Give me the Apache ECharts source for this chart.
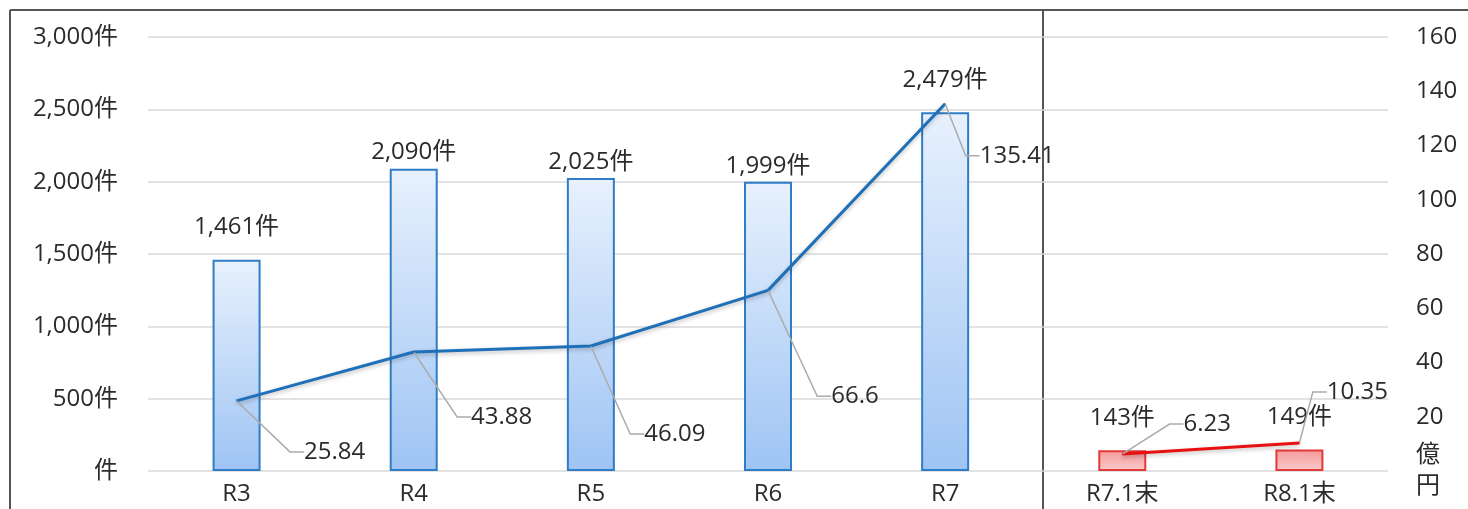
<!DOCTYPE html>
<html><head><meta charset="utf-8">
<script src="https://cdn.jsdelivr.net/npm/echarts@6/dist/echarts.min.js"></script>
<style>html,body{margin:0;padding:0;background:#fff}#c{width:1468px;height:509px}</style>
</head><body><div id="c"></div>
<script>
const categories = ['R3','R4','R5','R6','R7','R7.1末','R8.1末'];
const caseCounts = [1461, 2090, 2025, 1999, 2479, 143, 149];
const amountMain = [25.84, 43.88, 46.09, 66.6, 135.41];
const amountSub = [6.23, 10.35];
const leftTicks = {min: 0, max: 3000, interval: 500};
const rightTicks = {min: 0, max: 160, interval: 20};

const FONT = '"Open Sans", "Noto Sans CJK JP", sans-serif';
const FS = 24;
const TXT = '#2b2b2b';
const mainCount = amountMain.length;

const blueBar = {
  color: {type:'linear', x:0, y:0, x2:0, y2:1, colorStops:[{offset:0,color:'#e8f1fd'},{offset:1,color:'#9ec4f4'}]},
  borderColor:'#2f7dc6', borderWidth:2
};
const redBar = {
  color: {type:'linear', x:0, y:0, x2:0, y2:1, colorStops:[{offset:0,color:'#f49a9a'},{offset:1,color:'#fbcaca'}]},
  borderColor:'#e23a3a', borderWidth:2
};

const barData = caseCounts.map((v,i)=>({value:v, itemStyle: i < mainCount ? blueBar : redBar}));
const blueLine = categories.map((c,i)=> i < mainCount ? amountMain[i] : '-');
const redLine = categories.map((c,i)=> i >= mainCount ? amountSub[i-mainCount] : '-');

// label offsets (styling only)
const barLabelLift = [-16, 0, 0, 0, -16, -16, -16];
const blueLabelOffset = [[98,51],[88,65],[84,88],[87,106],[72,52]];
const redLabelOffset = [[85,-30],[58,-51]];

const chart = echarts.init(document.getElementById('c'));
chart.setOption({
  animation:false,
  textStyle:{fontFamily:FONT},
  grid:{left:148, right:80, top:37, bottom:38},
  xAxis:{
    type:'category', data:categories,
    axisLine:{show:false}, axisTick:{show:false},
    axisLabel:{color:TXT, fontSize:FS, fontFamily:FONT, margin:11}
  },
  yAxis:[{
    type:'value', min:leftTicks.min, max:leftTicks.max, interval:leftTicks.interval,
    axisLine:{show:false}, axisTick:{show:false},
    splitLine:{lineStyle:{color:'#d9d9d9', width:1.5}},
    axisLabel:{color:TXT, fontSize:FS, fontFamily:FONT, margin:30,
      formatter:v => v === 0 ? '件' : v.toLocaleString('en-US') + '件'}
  },{
    type:'value', min:rightTicks.min, max:rightTicks.max, interval:rightTicks.interval,
    axisLine:{show:false}, axisTick:{show:false}, splitLine:{show:false},
    axisLabel:{color:TXT, fontSize:FS, fontFamily:FONT, margin:28, lineHeight:31,
      formatter:v => v === 0 ? '億\n円' : String(v)}
  }],
  series:[{
    type:'bar', data:barData, barWidth:48, yAxisIndex:0, z:2,
    label:{show:true, position:'top', distance:4, color:TXT, fontSize:FS, fontFamily:FONT,
      formatter:p => p.value.toLocaleString('en-US') + '件'},
    labelLayout:p => ({dy: barLabelLift[p.dataIndex]})
  },{
    type:'line', data:blueLine, yAxisIndex:1, symbol:'circle', symbolSize:1, showSymbol:true, z:5,
    itemStyle:{color:'#1f70b8'},
    lineStyle:{color:'#1f70b8', width:3, shadowColor:'rgba(0,0,0,0.25)', shadowBlur:4, shadowOffsetY:2},
    label:{show:true, position:'inside', color:TXT, fontSize:FS, fontFamily:FONT},
    labelLine:{show:true, length2:14, lineStyle:{color:'#ababab', width:1.5}},
    labelLayout:p => {const o = blueLabelOffset[p.dataIndex] || [0,0]; return {dx:o[0], dy:o[1]};}
  },{
    type:'line', data:redLine, yAxisIndex:1, symbol:'circle', symbolSize:1, showSymbol:true, z:5,
    itemStyle:{color:'#e81010'},
    lineStyle:{color:'#e81010', width:3, shadowColor:'rgba(0,0,0,0.25)', shadowBlur:4, shadowOffsetY:2},
    label:{show:true, position:'inside', color:TXT, fontSize:FS, fontFamily:FONT},
    labelLine:{show:true, length2:14, lineStyle:{color:'#ababab', width:1.5}},
    labelLayout:p => {const o = redLabelOffset[p.dataIndex - mainCount] || [0,0]; return {dx:o[0], dy:o[1]};}
  }],
  graphic:[
    {type:'line', shape:{x1:10, y1:10, x2:10, y2:509}, style:{stroke:'#555', lineWidth:2}, silent:true},
    {type:'line', shape:{x1:10, y1:10, x2:1468, y2:10}, style:{stroke:'#555', lineWidth:2}, silent:true},
    {type:'line', shape:{x1:1043, y1:10, x2:1043, y2:509}, style:{stroke:'#555', lineWidth:2}, silent:true}
  ]
});
</script></body></html>
